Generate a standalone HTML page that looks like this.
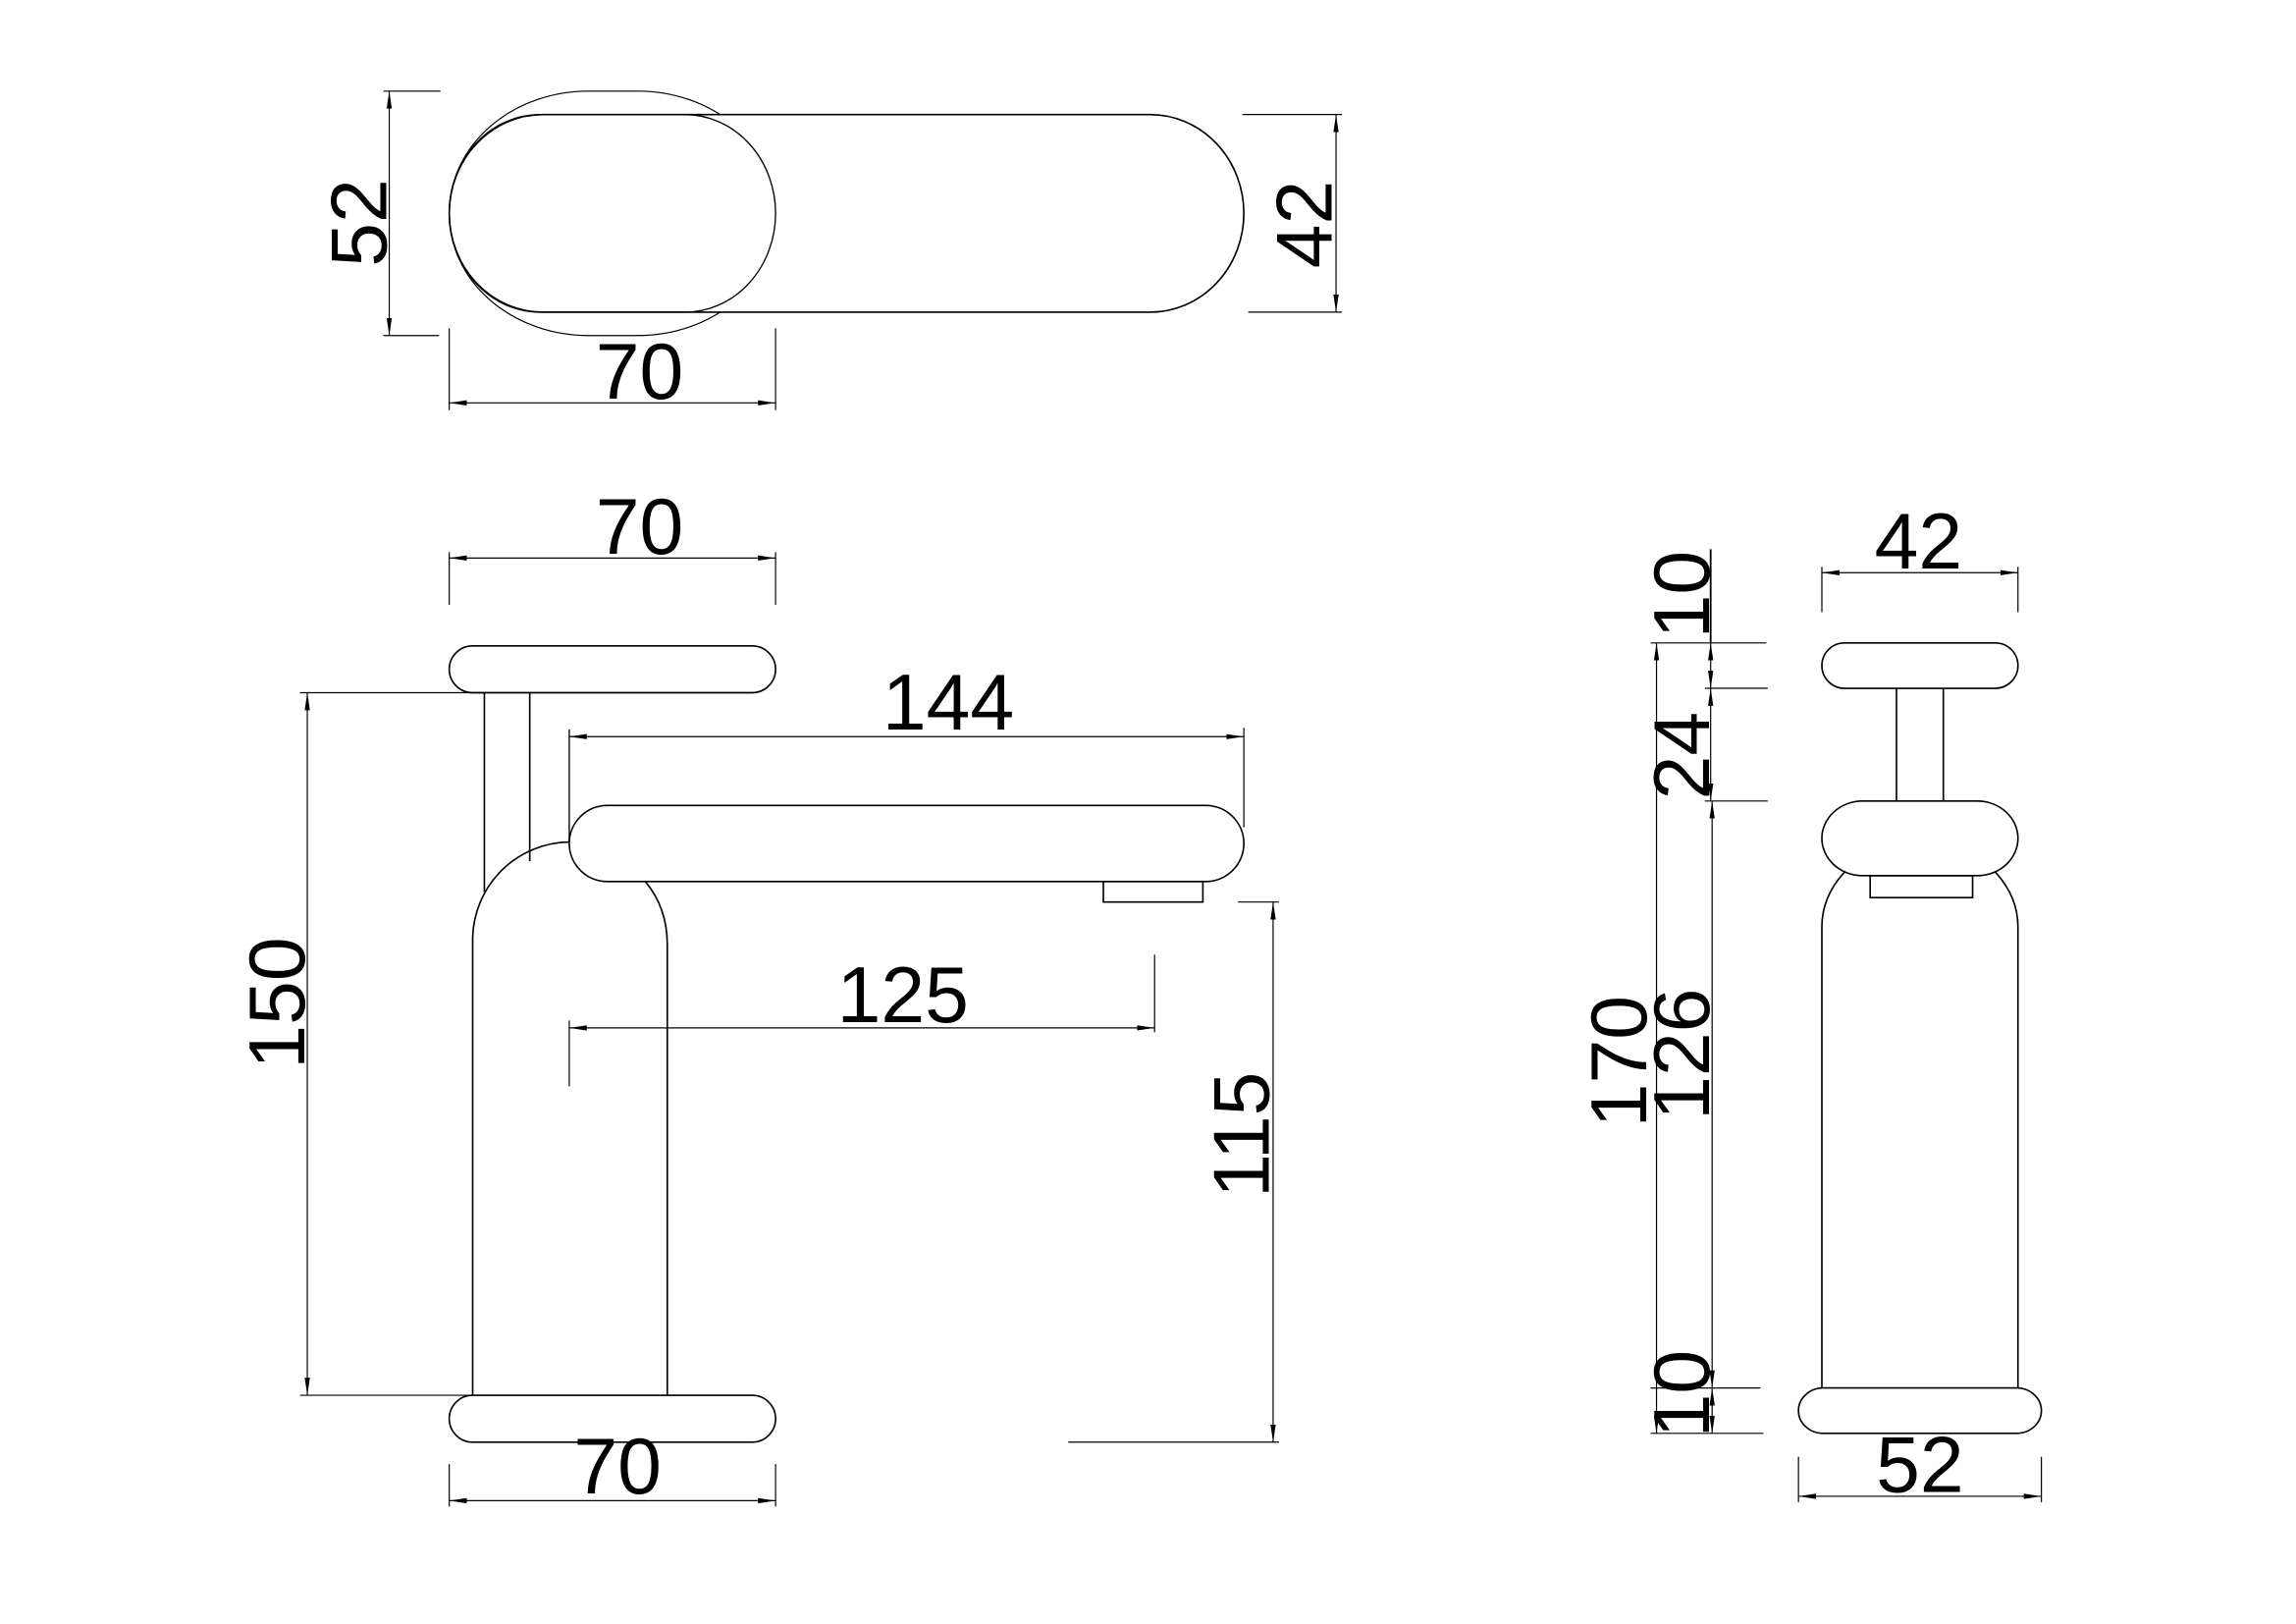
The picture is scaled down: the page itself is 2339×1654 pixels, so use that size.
<!DOCTYPE html>
<html><head><meta charset="utf-8"><style>
html,body{margin:0;padding:0;background:#fff;}
svg{display:block;}
text{font-family:"Liberation Sans",Arial,sans-serif;font-size:54px;fill:#000;}
</style></head><body>
<svg width="2339" height="1654" viewBox="0 0 1569 1109" xmlns="http://www.w3.org/2000/svg">
<defs>
<marker id="a" viewBox="0 0 12 6" refX="12" refY="3" markerWidth="12" markerHeight="6" markerUnits="userSpaceOnUse" orient="auto-start-reverse">
<path d="M12,3 L0,1.2 L0,4.8 Z" fill="#000"/>
</marker>
</defs>
<rect width="1569" height="1109" fill="#fff"/>
<g fill="none" stroke="#000" stroke-width="1.1">
<!-- TOP VIEW -->
<rect x="307" y="62" width="224" height="167" rx="95" ry="83" stroke-width="0.8"/>
<rect x="307" y="78" width="543" height="135" rx="64" ry="67.5" fill="#fff"/>
<rect x="307" y="78" width="223" height="135" rx="62" ry="67.5" stroke-width="0.9"/>
<line x1="266" y1="62" x2="266" y2="229" marker-start="url(#a)" marker-end="url(#a)" stroke-width="0.8"/>
<line x1="262" y1="62" x2="301" y2="62" stroke-width="0.8"/>
<line x1="262" y1="229" x2="300" y2="229" stroke-width="0.8"/>
<line x1="913" y1="78" x2="913" y2="213" marker-start="url(#a)" marker-end="url(#a)" stroke-width="0.8"/>
<line x1="849" y1="78" x2="917" y2="78" stroke-width="0.8"/>
<line x1="853" y1="213" x2="917" y2="213" stroke-width="0.8"/>
<line x1="307" y1="275" x2="530" y2="275" marker-start="url(#a)" marker-end="url(#a)" stroke-width="0.8"/>
<line x1="307" y1="224" x2="307" y2="280" stroke-width="0.8"/>
<line x1="530" y1="224" x2="530" y2="280" stroke-width="0.8"/>

<!-- FRONT VIEW -->
<line x1="307" y1="381" x2="530" y2="381" marker-start="url(#a)" marker-end="url(#a)" stroke-width="0.8"/>
<line x1="307" y1="377" x2="307" y2="413" stroke-width="0.8"/>
<line x1="530" y1="377" x2="530" y2="413" stroke-width="0.8"/>
<rect x="307" y="441" width="223" height="32" rx="16" ry="16"/>
<line x1="331" y1="473" x2="331" y2="609"/>
<line x1="362" y1="473" x2="362" y2="588"/>
<rect x="389" y="550" width="461" height="52" rx="26" ry="26"/>
<rect x="754" y="602" width="68" height="14"/>
<path d="M323,953 L323,640 A67,67 0 0 1 389,575"/>
<path d="M441,602 Q456,620 456,645 L456,953"/>
<rect x="307" y="953" width="223" height="32" rx="16" ry="16"/>
<line x1="389" y1="503" x2="850" y2="503" marker-start="url(#a)" marker-end="url(#a)" stroke-width="0.8"/>
<line x1="389" y1="498" x2="389" y2="575" stroke-width="0.9"/>
<line x1="850" y1="497" x2="850" y2="565" stroke-width="0.8"/>
<line x1="210" y1="473" x2="210" y2="953" marker-start="url(#a)" marker-end="url(#a)" stroke-width="0.8"/>
<line x1="205" y1="473" x2="331" y2="473" stroke-width="0.8"/>
<line x1="205" y1="953" x2="323" y2="953" stroke-width="0.8"/>
<line x1="389" y1="702" x2="789" y2="702" marker-start="url(#a)" marker-end="url(#a)" stroke-width="0.8"/>
<line x1="389" y1="697" x2="389" y2="742" stroke-width="0.8"/>
<line x1="789" y1="652" x2="789" y2="705" stroke-width="0.8"/>
<line x1="307" y1="1025" x2="530" y2="1025" marker-start="url(#a)" marker-end="url(#a)" stroke-width="0.8"/>
<line x1="307" y1="1000" x2="307" y2="1029" stroke-width="0.8"/>
<line x1="530" y1="1000" x2="530" y2="1029" stroke-width="0.8"/>
<line x1="870" y1="616" x2="870" y2="985" marker-start="url(#a)" marker-end="url(#a)" stroke-width="0.8"/>
<line x1="846" y1="616" x2="874" y2="616" stroke-width="0.8"/>
<line x1="730" y1="985" x2="874" y2="985" stroke-width="0.8"/>

<!-- SIDE VIEW -->
<line x1="1245" y1="391" x2="1379" y2="391" marker-start="url(#a)" marker-end="url(#a)" stroke-width="0.8"/>
<line x1="1245" y1="387" x2="1245" y2="418" stroke-width="0.8"/>
<line x1="1379" y1="387" x2="1379" y2="418" stroke-width="0.8"/>
<rect x="1245" y="439" width="134" height="31" rx="15.5" ry="15.5"/>
<line x1="1296" y1="470" x2="1296" y2="547"/>
<line x1="1328" y1="470" x2="1328" y2="547"/>
<rect x="1245" y="547" width="134" height="51" rx="28" ry="25.5"/>
<rect x="1278" y="598" width="70" height="15"/>
<path d="M1261,595 Q1245,612 1245,633 L1245,948"/>
<path d="M1363,595 Q1379,612 1379,633 L1379,948"/>
<rect x="1229" y="948" width="166" height="31" rx="17" ry="15.5"/>
<line x1="1229" y1="1022" x2="1395" y2="1022" marker-start="url(#a)" marker-end="url(#a)" stroke-width="0.8"/>
<line x1="1229" y1="995" x2="1229" y2="1026" stroke-width="0.8"/>
<line x1="1395" y1="995" x2="1395" y2="1026" stroke-width="0.8"/>
<line x1="1132" y1="439" x2="1132" y2="979" marker-start="url(#a)" marker-end="url(#a)" stroke-width="0.8"/>
<line x1="1169" y1="375" x2="1169" y2="439" stroke-width="1.2"/>
<line x1="1169" y1="439" x2="1169" y2="470" marker-start="url(#a)" marker-end="url(#a)" stroke-width="0.8"/>
<line x1="1169" y1="470" x2="1169" y2="547" marker-start="url(#a)" marker-end="url(#a)" stroke-width="0.8"/>
<line x1="1170" y1="547" x2="1170" y2="948" marker-start="url(#a)" marker-end="url(#a)" stroke-width="0.8"/>
<line x1="1170" y1="948" x2="1170" y2="979" marker-start="url(#a)" marker-end="url(#a)" stroke-width="0.8"/>
<line x1="1128" y1="439" x2="1207" y2="439" stroke-width="0.8"/>
<line x1="1165" y1="470" x2="1208" y2="470" stroke-width="0.8"/>
<line x1="1165" y1="547" x2="1208" y2="547" stroke-width="0.8"/>
<line x1="1128" y1="948" x2="1203" y2="948" stroke-width="0.8"/>
<line x1="1128" y1="979" x2="1205" y2="979" stroke-width="0.8"/>
</g>

<g>
<text x="437" y="272" text-anchor="middle">70</text>
<text transform="translate(264,152) rotate(-90)" text-anchor="middle">52</text>
<text transform="translate(910,153) rotate(-90)" text-anchor="middle">42</text>
<text x="437" y="378" text-anchor="middle">70</text>
<text x="648" y="498" text-anchor="middle">144</text>
<text x="617" y="698" text-anchor="middle">125</text>
<text x="422" y="1020" text-anchor="middle">70</text>
<text transform="translate(208,685) rotate(-90)" text-anchor="middle">150</text>
<text transform="translate(867,775) rotate(-90)" text-anchor="middle">115</text>
<text x="1311" y="388" text-anchor="middle">42</text>
<text x="1312" y="1019" text-anchor="middle">52</text>
<text transform="translate(1168,406) rotate(-90)" text-anchor="middle">10</text>
<text transform="translate(1168,516) rotate(-90)" text-anchor="middle">24</text>
<text transform="translate(1168,720) rotate(-90)" text-anchor="middle">126</text>
<text transform="translate(1125,725) rotate(-90)" text-anchor="middle">170</text>
<text transform="translate(1168,952) rotate(-90)" text-anchor="middle">10</text>
</g>
</svg>
</body></html>
